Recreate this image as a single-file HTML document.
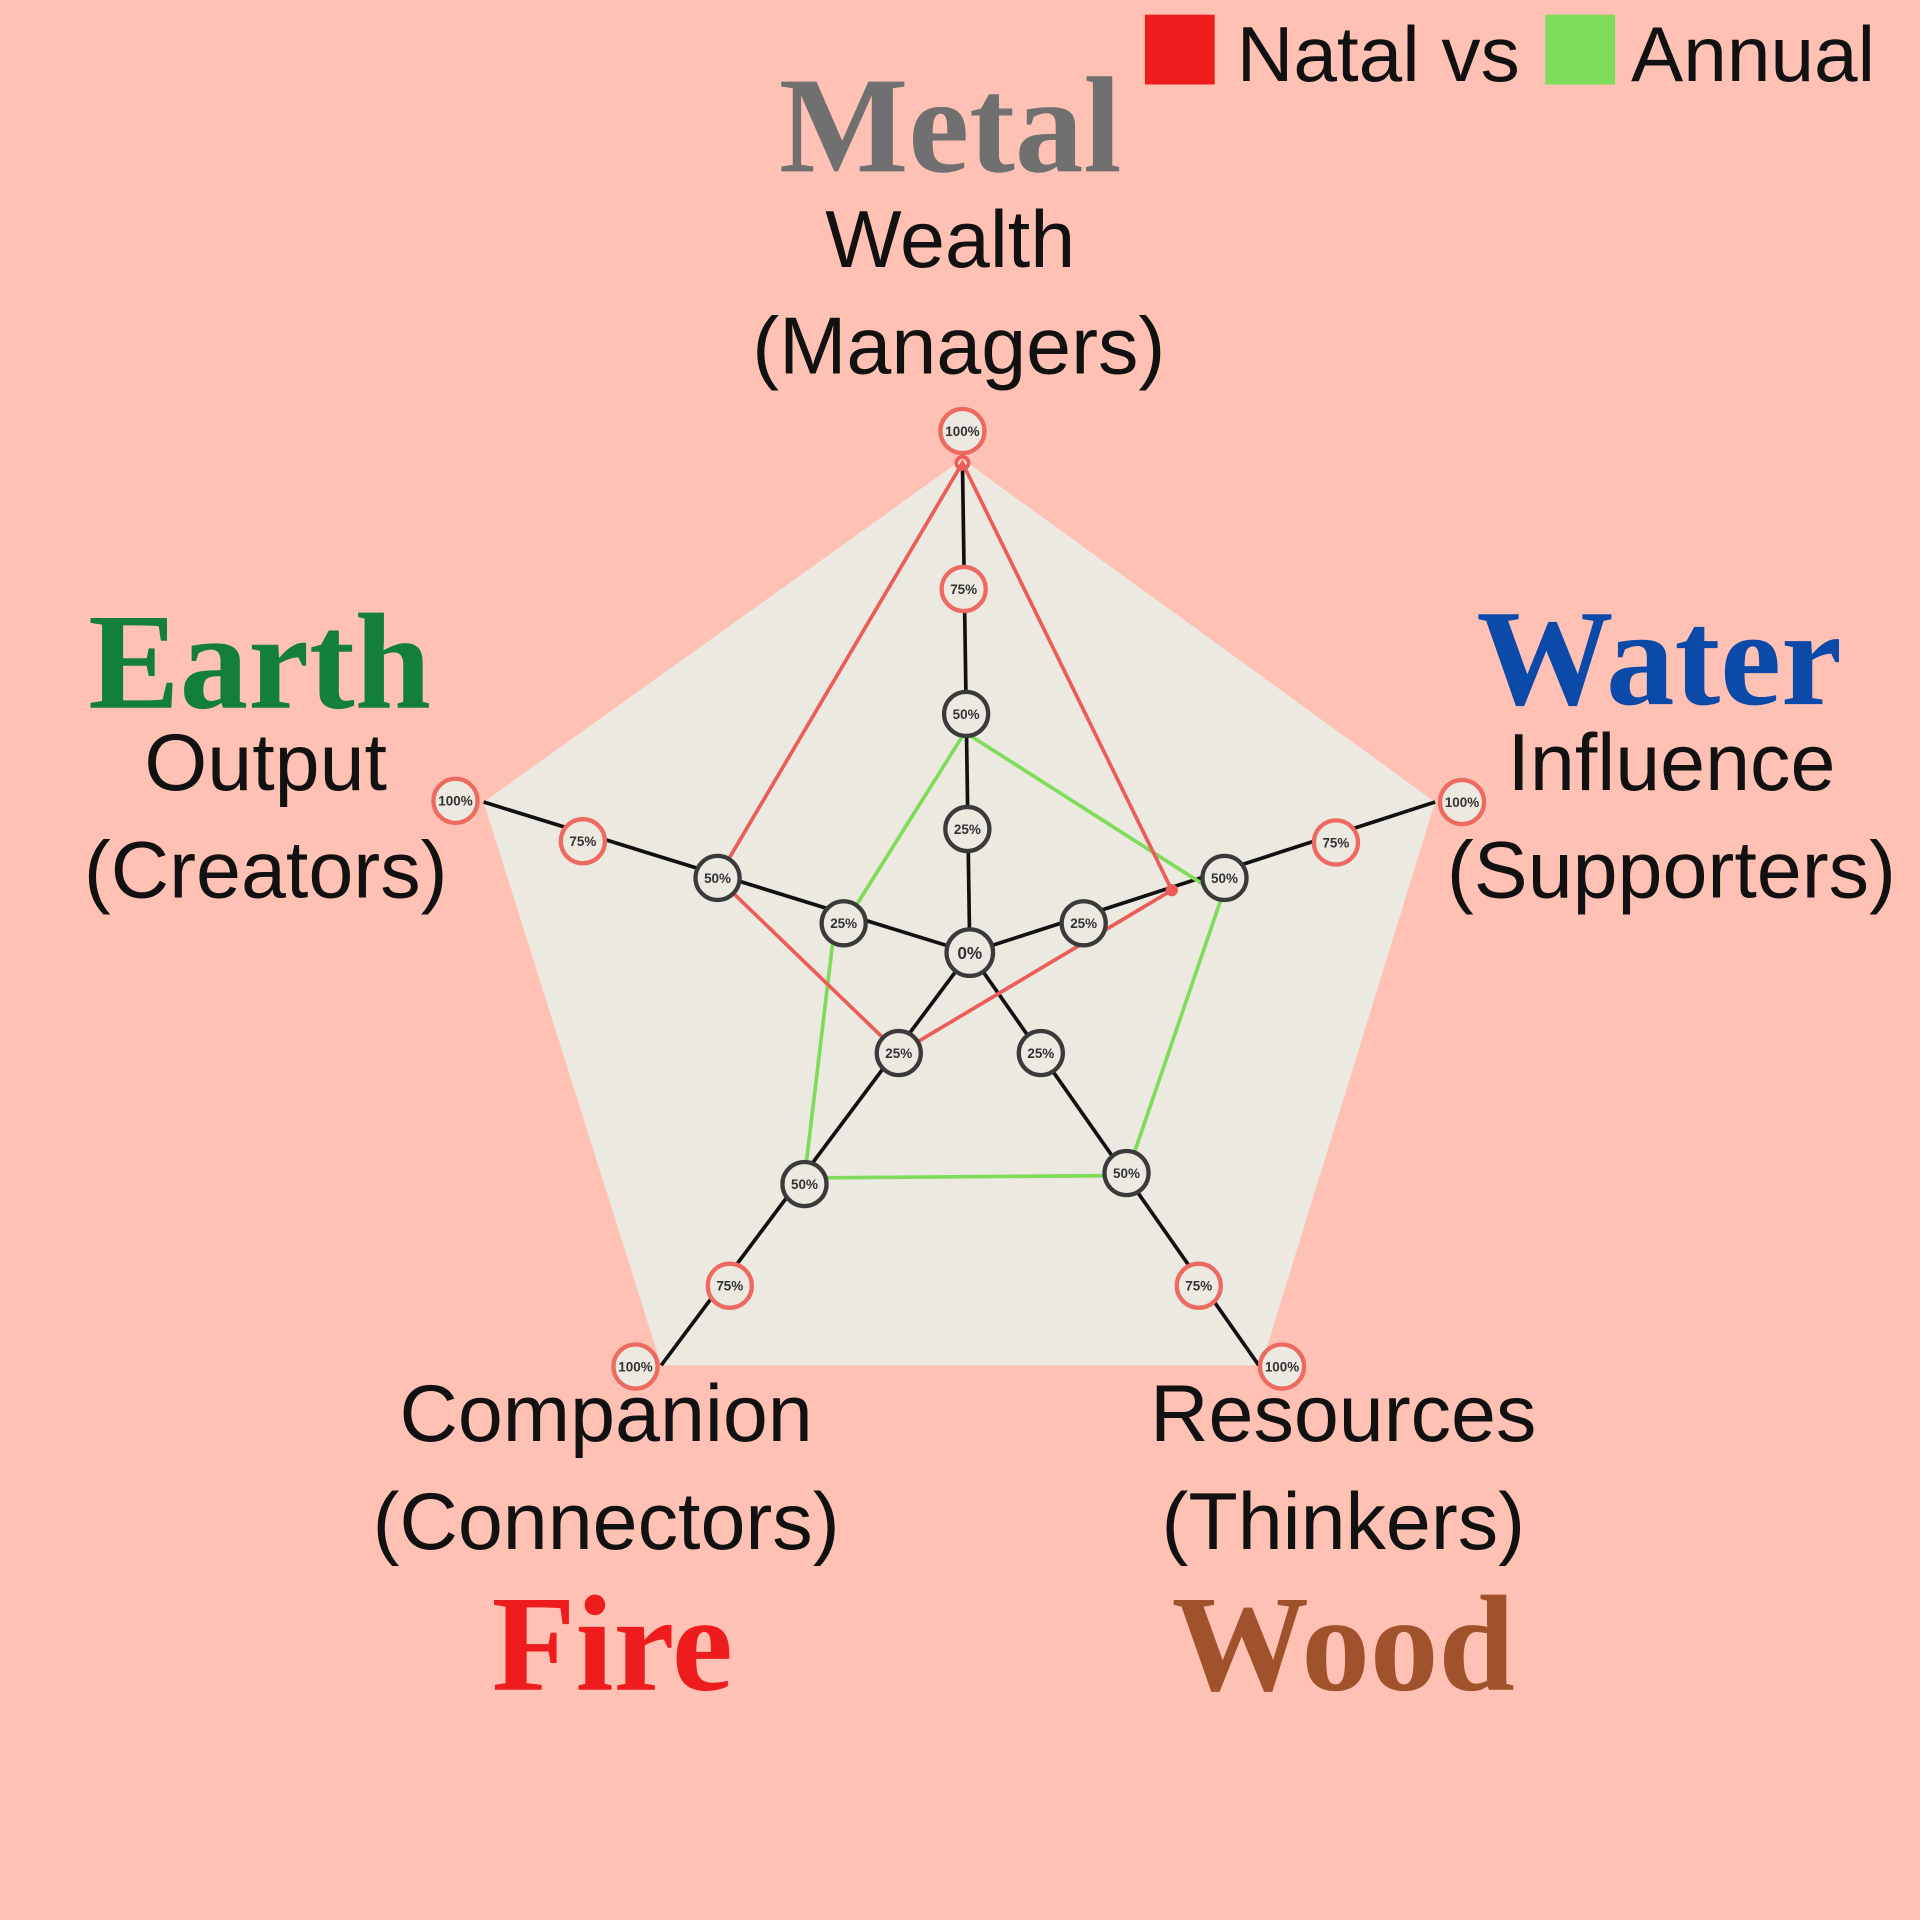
<!DOCTYPE html>
<html><head><style>
html,body{margin:0;padding:0;background:#ffc1b4;width:1920px;height:1920px;overflow:hidden}
svg{display:block}
.t{font-family:"Liberation Sans",sans-serif;fill:#111;font-size:66px;text-anchor:middle}
.h{font-family:"Liberation Serif",serif;font-weight:bold;font-size:112px;text-anchor:middle}
.c{font-family:"Liberation Sans",sans-serif;font-weight:bold;font-size:11px;fill:#333;text-anchor:middle}
</style></head><body>
<svg width="1920" height="1920" viewBox="0 0 1568 1568" xmlns="http://www.w3.org/2000/svg">
<rect width="1568" height="1568" fill="#ffc1b4"/>
<polygon points="786,375 1172,655 1030,1115 540,1115 395,655" fill="#ece9e0"/>
<g stroke="#111" stroke-width="3" fill="none">
<line x1="792" y1="778" x2="786" y2="378"/>
<line x1="792" y1="778" x2="1172" y2="655"/>
<line x1="792" y1="778" x2="1028" y2="1115"/>
<line x1="792" y1="778" x2="540" y2="1115"/>
<line x1="792" y1="778" x2="395" y2="655"/>
</g>
<polygon points="788,598 998,732 920,960 657,962 680,770" fill="none" stroke="#7ddc5a" stroke-width="3"/>
<polygon points="786,378 957,727 734,860 586,717" fill="none" stroke="#ec5c58" stroke-width="3"/>
<circle cx="786" cy="378" r="5" fill="none" stroke="#ec5c58" stroke-width="3"/>
<circle cx="957" cy="727" r="5" fill="#ec5c58"/>
<g stroke-width="3.5" fill="#ece9e0">
<g stroke="#ec6a60">
<circle cx="786" cy="352" r="18"/><circle cx="787" cy="481" r="18"/>
<circle cx="1194" cy="655" r="18"/><circle cx="1091" cy="688" r="18"/>
<circle cx="1047" cy="1116" r="18"/><circle cx="979" cy="1050" r="18"/>
<circle cx="519" cy="1116" r="18"/><circle cx="596" cy="1050" r="18"/>
<circle cx="372" cy="654" r="18"/><circle cx="476" cy="687" r="18"/>
</g>
<g stroke="#3a3a3a">
<circle cx="789" cy="583" r="18"/><circle cx="790" cy="677" r="18"/>
<circle cx="885" cy="754" r="18"/><circle cx="1000" cy="717" r="18"/>
<circle cx="850" cy="860" r="18"/><circle cx="920" cy="958" r="18"/>
<circle cx="734" cy="860" r="18"/><circle cx="657" cy="967" r="18"/>
<circle cx="689" cy="754" r="18"/><circle cx="586" cy="717" r="18"/>
<circle cx="792" cy="778" r="19"/>
</g>
</g>
<g class="c">
<text x="786" y="356">100%</text><text x="787" y="485">75%</text><text x="789" y="587">50%</text><text x="790" y="681">25%</text>
<text x="1194" y="659">100%</text><text x="1091" y="692">75%</text><text x="1000" y="721">50%</text><text x="885" y="758">25%</text>
<text x="1047" y="1120">100%</text><text x="979" y="1054">75%</text><text x="920" y="962">50%</text><text x="850" y="864">25%</text>
<text x="519" y="1120">100%</text><text x="596" y="1054">75%</text><text x="657" y="971">50%</text><text x="734" y="864">25%</text>
<text x="372" y="658">100%</text><text x="476" y="691">75%</text><text x="586" y="721">50%</text><text x="689" y="758">25%</text>
<text x="792" y="783" style="font-size:14px">0%</text>
</g>
<text class="h" x="776" y="140" fill="#707070">Metal</text>
<text class="h" x="212" y="578" fill="#13803a">Earth</text>
<text class="h" x="1355" y="575" fill="#0b4aa8">Water</text>
<text class="h" x="500" y="1380" fill="#ee1c1c">Fire</text>
<text class="h" x="1097" y="1380" fill="#a0522d">Wood</text>
<text class="t" x="776" y="218">Wealth</text><text class="t" x="783" y="305">(Managers)</text>
<text class="t" x="217" y="645">Output</text><text class="t" x="217" y="733">(Creators)</text>
<text class="t" x="1365" y="645">Influence</text><text class="t" x="1365" y="733">(Supporters)</text>
<text class="t" x="495" y="1177">Companion</text><text class="t" x="495" y="1265">(Connectors)</text>
<text class="t" x="1097" y="1177">Resources</text><text class="t" x="1097" y="1265">(Thinkers)</text>
<rect x="935" y="12" width="57" height="57" fill="#f01c1c"/>
<text x="1010" y="66" style="font-family:'Liberation Sans',sans-serif;font-size:64px;fill:#111">Natal vs</text>
<rect x="1262" y="12" width="57" height="57" fill="#7ddc5a"/>
<text x="1332" y="66" style="font-family:'Liberation Sans',sans-serif;font-size:64px;fill:#111">Annual</text>
</svg>
</body></html>
